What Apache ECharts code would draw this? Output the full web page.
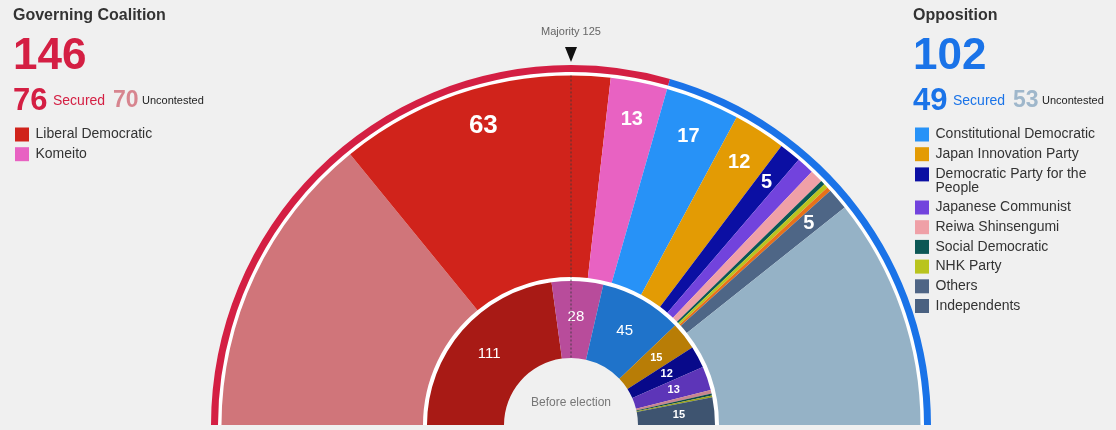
<!DOCTYPE html>
<html>
<head>
<meta charset="utf-8">
<script src="https://cdn.jsdelivr.net/npm/echarts@6/dist/echarts.min.js"></script>
<style>
html,body{margin:0;padding:0;background:#f0f0f0;}
#chart{width:1116px;height:430px;}
</style>
</head>
<body>
<div id="chart"></div>
<script>
const FONT = '"Liberation Sans", Arial, sans-serif';

// ---- data ----
const TOTAL_SEATS = 248;
const MAJORITY = 125;

const blocNames = ['Governing Coalition', 'Opposition'];
const blocTotals = [146, 102];
const blocSecured = [76, 49];
const blocUncontested = [70, 53];
const blocColors = ['#d41f43', '#1a73e8'];
const blocUncontestedColors = ['#d7858f', '#9fb7cb'];

// after election (outer main ring): seats, left to right
const afterNames = ['Coalition uncontested', 'Liberal Democratic', 'Komeito', 'Constitutional Democratic',
  'Japan Innovation Party', 'Democratic Party for the People', 'Japanese Communist', 'Reiwa Shinsengumi',
  'Social Democratic', 'NHK Party', 'Others', 'Independents', 'Opposition uncontested'];
const afterSeats = [70, 63, 13, 17, 12, 5, 4, 3, 1, 1, 1, 5, 53];
const afterColors = ['#d0757a', '#d0231b', '#e862c2', '#2792f7', '#e39b04', '#0b0fa3', '#7243dd',
  '#efa0a7', '#0c5755', '#b9c41e', '#e8711a', '#4e6686', '#95b2c6'];
const uncontestedNames = ['Coalition uncontested', 'Opposition uncontested'];

// before election (inner ring)
const beforeNames = ['Liberal Democratic', 'Komeito', 'Constitutional Democratic', 'Japan Innovation Party',
  'Democratic Party for the People', 'Japanese Communist', 'Reiwa Shinsengumi', 'Social Democratic',
  'NHK Party', 'Independents'];
const beforeSeats = [111, 28, 45, 15, 12, 13, 2, 1, 1, 15];
const beforeColors = ['#a81a15', '#b84c9b', '#1f73ca', '#b87d06', '#08098a', '#5d35b8', '#c9868f',
  '#0b4a48', '#9aa31a', '#3e5470'];

// legends
const legendLeftNames = ['Liberal Democratic', 'Komeito'];
const legendLeftColors = ['#d0231b', '#e862c2'];
const legendRightNames = ['Constitutional Democratic', 'Japan Innovation Party', 'Democratic Party for the People',
  'Japanese Communist', 'Reiwa Shinsengumi', 'Social Democratic', 'NHK Party', 'Others', 'Independents'];
const legendRightColors = ['#2792f7', '#e39b04', '#0b0fa3', '#7243dd', '#efa0a7', '#0c5755', '#b9c41e', '#4f6585', '#4a6181'];
const legendWrap = {'Democratic Party for the People': ['Democratic Party for the', 'People']};

// ---- layout ----
const CX = 571, CY = 425;
const R_HOLE = 67, R_INNER = 144, R_MAIN_IN = 148, R_MAIN_OUT = 349.5, R_RING_IN = 353, R_RING_OUT = 360;

const chart = echarts.init(document.getElementById('chart'), null, {renderer: 'canvas'});

const semi = {type: 'pie', center: [CX, CY], startAngle: 180, endAngle: 0, clockwise: true,
  silent: true, animation: false, labelLine: {show: false}, emphasis: {disabled: true}, avoidLabelOverlap: false};

const afterData = afterNames.map((n, i) => ({name: n, value: afterSeats[i], itemStyle: {color: afterColors[i]}}));
const afterLabelData = afterNames.map((n, i) => {
  const v = afterSeats[i];
  const show = uncontestedNames.indexOf(n) < 0 && v >= 5;
  return {name: n, value: v, itemStyle: {color: 'rgba(0,0,0,0)'},
    label: {show: show, fontSize: v >= 30 ? 26 : 20}};
});
const beforeData = beforeNames.map((n, i) => {
  const v = beforeSeats[i];
  return {name: n, value: v, itemStyle: {color: beforeColors[i]},
    label: {show: v >= 10, fontSize: v >= 20 ? 15 : 11, fontWeight: v >= 20 ? 'normal' : 'bold'}};
});
const blocData = blocNames.map((n, i) => ({name: n, value: blocTotals[i], itemStyle: {color: blocColors[i]}}));

// majority marker geometry, from seat data
const majAngle = Math.PI * (1 - (MAJORITY - 1) / TOTAL_SEATS);
const px = (r) => CX + r * Math.cos(majAngle);
const py = (r) => CY - r * Math.sin(majAngle);
const tipR = R_RING_OUT + 3;

function header(x0, i) {
  const c = blocColors[i], lc = blocUncontestedColors[i];
  return [
    {type: 'text', x: x0, y: 16, style: {text: blocNames[i], font: 'bold 16px ' + FONT, fill: '#333', verticalAlign: 'middle'}},
    {type: 'text', x: x0, y: 57, style: {text: String(blocTotals[i]), font: 'bold 44px ' + FONT, fill: c, verticalAlign: 'middle'}},
    {type: 'text', x: x0, y: 101, style: {text: String(blocSecured[i]), font: 'bold 31px ' + FONT, fill: c, verticalAlign: 'middle'}},
    {type: 'text', x: x0 + 40, y: 101, style: {text: 'Secured', font: '14px ' + FONT, fill: c, verticalAlign: 'middle'}},
    {type: 'text', x: x0 + 100, y: 101, style: {text: String(blocUncontested[i]), font: 'bold 23px ' + FONT, fill: lc, verticalAlign: 'middle'}},
    {type: 'text', x: x0 + 129, y: 101, style: {text: 'Uncontested', font: '11px ' + FONT, fill: '#222', verticalAlign: 'middle'}}
  ];
}

const legendBase = {orient: 'vertical', icon: 'rect', itemWidth: 14, itemHeight: 14, itemGap: 4.7,
  padding: 0, selectedMode: false,
  formatter: (name) => legendWrap[name] ? '{a|' + legendWrap[name][0] + '}\n{b|' + legendWrap[name][1] + '}' : name,
  textStyle: {fontSize: 14, color: '#333', fontFamily: FONT, lineHeight: 15, padding: [0, 0, 0, 1.5],
    rich: {
      a: {fontSize: 14, color: '#333', fontFamily: FONT, lineHeight: 15},
      b: {fontSize: 14, color: '#333', fontFamily: FONT, lineHeight: 1, verticalAlign: 'top'}
    }}};

function legendItems(names, colors) {
  return names.map((n, i) => ({name: n, itemStyle: {color: colors[i]}}));
}
const SPLIT = 3; // right legend continues below the wrapped entry

chart.setOption({
  backgroundColor: '#f0f0f0',
  animation: false,
  textStyle: {fontFamily: FONT},
  legend: [
    Object.assign({}, legendBase, {left: 15, top: 127, data: legendItems(legendLeftNames, legendLeftColors)}),
    Object.assign({}, legendBase, {left: 915, top: 127,
      data: legendItems(legendRightNames.slice(0, SPLIT), legendRightColors.slice(0, SPLIT))}),
    Object.assign({}, legendBase, {left: 915, top: 200,
      data: legendItems(legendRightNames.slice(SPLIT), legendRightColors.slice(SPLIT))})
  ],
  series: [
    Object.assign({}, semi, {name: 'backing', radius: [R_INNER - 1, R_RING_IN], z: 1,
      data: [{name: 'backing', value: 1, itemStyle: {color: '#ffffff'}}], label: {show: false}}),
    Object.assign({}, semi, {name: 'blocs', radius: [R_RING_IN, R_RING_OUT], z: 2,
      data: blocData, label: {show: false}, itemStyle: {borderWidth: 0}}),
    Object.assign({}, semi, {name: 'after', radius: [R_MAIN_IN, R_MAIN_OUT], z: 3,
      data: afterData, label: {show: false}, itemStyle: {borderWidth: 0}}),
    Object.assign({}, semi, {name: 'afterLabels', radius: [268, R_MAIN_OUT], z: 4,
      data: afterLabelData, itemStyle: {borderWidth: 0},
      label: {position: 'inside', color: '#fff', fontWeight: 'bold', fontFamily: FONT, formatter: '{c}'}}),
    Object.assign({}, semi, {name: 'before', radius: [R_HOLE, R_INNER], z: 5,
      data: beforeData, itemStyle: {borderWidth: 0},
      label: {position: 'inside', color: '#fff', fontFamily: FONT, formatter: '{c}'}})
  ],
  graphic: [].concat(
    header(13, 0),
    header(913, 1),
    [
      {type: 'line', z: 100, silent: true, shape: {x1: px(R_MAIN_OUT), y1: py(R_MAIN_OUT), x2: px(R_HOLE), y2: py(R_HOLE)},
        style: {stroke: '#3a3a3a', lineWidth: 1, lineDash: [2, 2], opacity: 0.85}},
      {type: 'polygon', z: 100, silent: true,
        shape: {points: [[px(tipR) - 6, py(tipR) - 15], [px(tipR) + 6, py(tipR) - 15], [px(tipR), py(tipR)]]},
        style: {fill: '#111'}},
      {type: 'text', z: 100, x: px(tipR), y: 32, style: {text: 'Majority ' + MAJORITY, font: '11px ' + FONT, fill: '#666', align: 'center', verticalAlign: 'middle'}},
      {type: 'text', z: 100, x: CX, y: 403, style: {text: 'Before election', font: '12px ' + FONT, fill: '#777', align: 'center', verticalAlign: 'middle'}}
    ]
  )
});
</script>
</body>
</html>
